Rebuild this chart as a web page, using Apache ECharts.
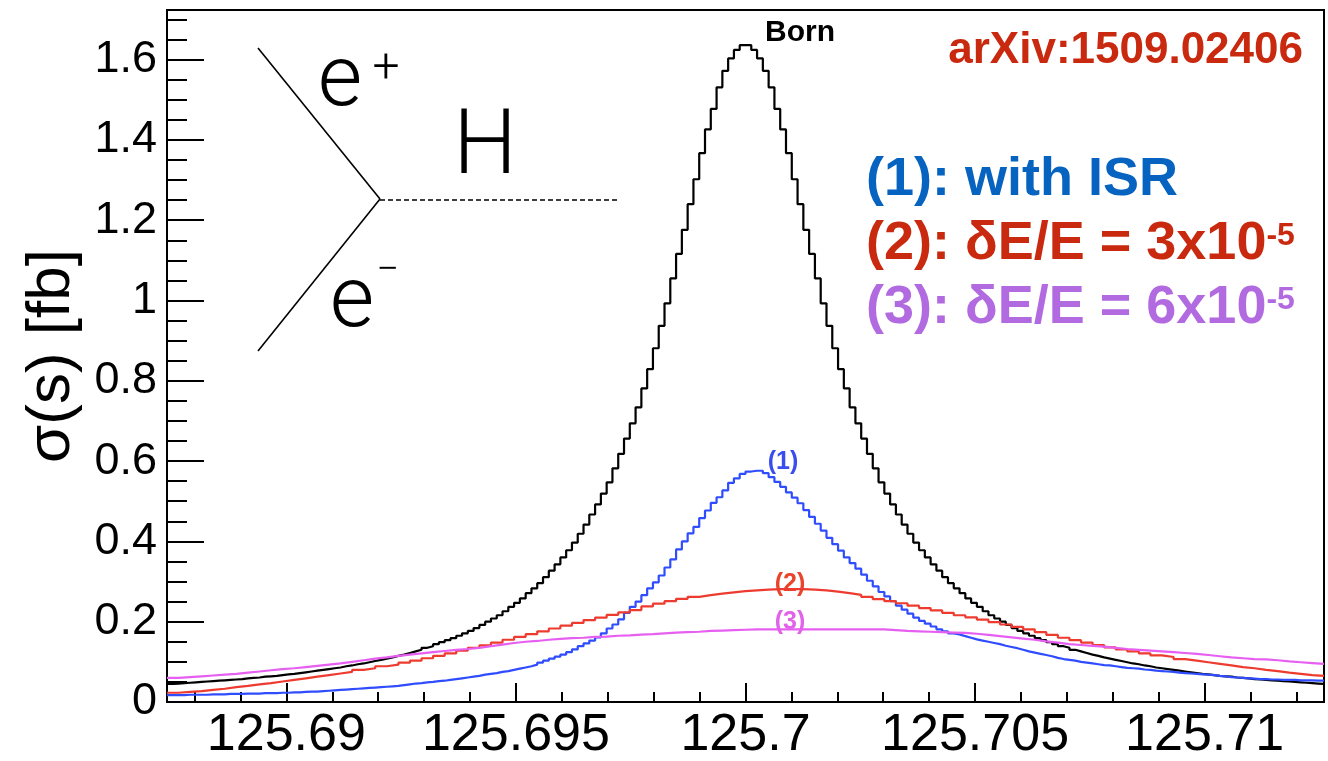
<!DOCTYPE html>
<html><head><meta charset="utf-8">
<script src="https://cdn.jsdelivr.net/npm/echarts@6/dist/echarts.min.js"></script>
<style>html,body{margin:0;padding:0;background:#fff}#c{width:1328px;height:761px}</style>
</head><body><div id="c"></div>
<script>
const xMin = 125.6874, xMax = 125.7126;
const yMin = 0, yMax = 1.7235;
const xMajorTicks = [125.69, 125.695, 125.7, 125.705, 125.71];
const xTickLabels = ['125.69', '125.695', '125.7', '125.705', '125.71'];
const xMinorTicks = [125.688, 125.689, 125.691, 125.692, 125.693, 125.694, 125.696, 125.697, 125.698, 125.699,
  125.701, 125.702, 125.703, 125.704, 125.706, 125.707, 125.708, 125.709, 125.711, 125.712];
const yMajorTicks = [0, 0.2, 0.4, 0.6, 0.8, 1.0, 1.2, 1.4, 1.6];
const yTickLabels = ['0', '0.2', '0.4', '0.6', '0.8', '1', '1.2', '1.4', '1.6'];
const yMinorTicks = [0.05, 0.1, 0.15, 0.25, 0.3, 0.35, 0.45, 0.5, 0.55, 0.65, 0.7, 0.75, 0.85, 0.9, 0.95,
  1.05, 1.1, 1.15, 1.25, 1.3, 1.35, 1.45, 1.5, 1.55, 1.65, 1.7];

// Born (200 bins)
const born = [
  0.045, 0.046, 0.047, 0.048, 0.049, 0.050, 0.051, 0.052, 0.053, 0.054,
  0.055, 0.056, 0.057, 0.059, 0.060, 0.061, 0.063, 0.064, 0.065, 0.067,
  0.069, 0.070, 0.072, 0.074, 0.076, 0.078, 0.080, 0.082, 0.084, 0.086,
  0.089, 0.091, 0.094, 0.096, 0.099, 0.102, 0.105, 0.108, 0.111, 0.115,
  0.118, 0.122, 0.126, 0.130, 0.135, 0.139, 0.144, 0.149, 0.154, 0.159,
  0.165, 0.171, 0.177, 0.184, 0.192, 0.200, 0.208, 0.216, 0.226, 0.237,
  0.247, 0.258, 0.271, 0.283, 0.296, 0.311, 0.327, 0.343, 0.360, 0.378,
  0.397, 0.419, 0.442, 0.467, 0.492, 0.519, 0.547, 0.582, 0.618, 0.656,
  0.694, 0.734, 0.781, 0.829, 0.881, 0.937, 0.993, 1.055, 1.116, 1.176,
  1.240, 1.302, 1.367, 1.426, 1.477, 1.531, 1.572, 1.603, 1.624, 1.636,
  1.636, 1.624, 1.603, 1.572, 1.531, 1.477, 1.426, 1.367, 1.302, 1.240,
  1.176, 1.116, 1.055, 0.993, 0.937, 0.881, 0.829, 0.781, 0.734, 0.694,
  0.656, 0.618, 0.582, 0.547, 0.519, 0.492, 0.467, 0.442, 0.419, 0.397,
  0.378, 0.360, 0.343, 0.327, 0.311, 0.296, 0.283, 0.271, 0.258, 0.247,
  0.237, 0.226, 0.216, 0.208, 0.200, 0.192, 0.184, 0.177, 0.171, 0.165,
  0.159, 0.154, 0.149, 0.144, 0.139, 0.135, 0.130, 0.126, 0.122, 0.118,
  0.115, 0.111, 0.108, 0.105, 0.102, 0.099, 0.096, 0.094, 0.091, 0.089,
  0.086, 0.084, 0.082, 0.080, 0.078, 0.076, 0.074, 0.072, 0.070, 0.069,
  0.067, 0.065, 0.064, 0.063, 0.061, 0.060, 0.059, 0.057, 0.056, 0.055,
  0.054, 0.053, 0.052, 0.051, 0.050, 0.049, 0.048, 0.047, 0.046, 0.045
];
// (1) with ISR (200 bins)
const withISR = [
  0.017, 0.017, 0.017, 0.018, 0.018, 0.018, 0.018, 0.019, 0.019, 0.019,
  0.020, 0.020, 0.020, 0.021, 0.021, 0.021, 0.022, 0.022, 0.022, 0.023,
  0.023, 0.024, 0.024, 0.025, 0.026, 0.026, 0.027, 0.028, 0.029, 0.030,
  0.031, 0.032, 0.033, 0.034, 0.035, 0.036, 0.037, 0.038, 0.039, 0.040,
  0.042, 0.044, 0.046, 0.047, 0.049, 0.050, 0.052, 0.053, 0.055, 0.057,
  0.059, 0.061, 0.063, 0.065, 0.068, 0.070, 0.072, 0.075, 0.077, 0.080,
  0.083, 0.086, 0.089, 0.093, 0.098, 0.103, 0.108, 0.113, 0.118, 0.124,
  0.131, 0.139, 0.146, 0.153, 0.161, 0.171, 0.183, 0.193, 0.206, 0.222,
  0.237, 0.250, 0.266, 0.283, 0.298, 0.315, 0.335, 0.355, 0.380, 0.400,
  0.420, 0.436, 0.458, 0.477, 0.496, 0.510, 0.527, 0.546, 0.557, 0.568,
  0.574, 0.576, 0.576, 0.570, 0.560, 0.548, 0.536, 0.522, 0.509, 0.495,
  0.478, 0.461, 0.444, 0.427, 0.409, 0.393, 0.377, 0.360, 0.346, 0.332,
  0.317, 0.302, 0.288, 0.274, 0.263, 0.251, 0.240, 0.230, 0.220, 0.210,
  0.202, 0.195, 0.188, 0.181, 0.176, 0.171, 0.168, 0.164, 0.160, 0.156,
  0.153, 0.150, 0.147, 0.144, 0.140, 0.137, 0.134, 0.130, 0.126, 0.123,
  0.120, 0.117, 0.114, 0.110, 0.107, 0.105, 0.103, 0.100, 0.098, 0.096,
  0.094, 0.092, 0.091, 0.089, 0.087, 0.085, 0.084, 0.083, 0.081, 0.080,
  0.078, 0.077, 0.076, 0.075, 0.073, 0.072, 0.071, 0.070, 0.069, 0.068,
  0.067, 0.065, 0.064, 0.062, 0.061, 0.060, 0.059, 0.058, 0.057, 0.057,
  0.056, 0.056, 0.055, 0.055, 0.055, 0.054, 0.054, 0.054, 0.053, 0.053
];
// (2) dE/E = 3e-5 (100 bins)
const spread3 = [
  0.023, 0.025, 0.027, 0.030, 0.033, 0.037, 0.040, 0.044, 0.047, 0.051,
  0.055, 0.059, 0.063, 0.067, 0.071, 0.075, 0.080, 0.084, 0.089, 0.093,
  0.098, 0.103, 0.109, 0.115, 0.121, 0.128, 0.135, 0.141, 0.148, 0.155,
  0.162, 0.169, 0.176, 0.183, 0.190, 0.197, 0.204, 0.210, 0.217, 0.223,
  0.229, 0.238, 0.245, 0.251, 0.257, 0.262, 0.266, 0.270, 0.273, 0.276,
  0.278, 0.280, 0.281, 0.281, 0.281, 0.280, 0.278, 0.275, 0.271, 0.267,
  0.262, 0.256, 0.251, 0.246, 0.240, 0.234, 0.228, 0.222, 0.216, 0.211,
  0.205, 0.199, 0.193, 0.187, 0.181, 0.174, 0.167, 0.160, 0.154, 0.148,
  0.142, 0.136, 0.131, 0.126, 0.121, 0.116, 0.112, 0.107, 0.103, 0.099,
  0.095, 0.091, 0.087, 0.084, 0.080, 0.077, 0.073, 0.070, 0.067, 0.065
];
// (3) dE/E = 6e-5 (100 bins)
const spread6 = [
  0.060, 0.062, 0.064, 0.066, 0.068, 0.070, 0.073, 0.076, 0.079, 0.082,
  0.084, 0.087, 0.090, 0.093, 0.096, 0.100, 0.104, 0.108, 0.111, 0.115,
  0.118, 0.121, 0.124, 0.127, 0.130, 0.132, 0.135, 0.139, 0.143, 0.147,
  0.150, 0.152, 0.155, 0.157, 0.159, 0.160, 0.162, 0.163, 0.165, 0.166,
  0.168, 0.169, 0.171, 0.173, 0.174, 0.175, 0.177, 0.178, 0.179, 0.180,
  0.181, 0.181, 0.181, 0.181, 0.181, 0.181, 0.181, 0.181, 0.181, 0.181,
  0.181, 0.181, 0.179, 0.177, 0.176, 0.175, 0.174, 0.173, 0.172, 0.170,
  0.167, 0.164, 0.161, 0.158, 0.155, 0.151, 0.148, 0.144, 0.142, 0.140,
  0.138, 0.135, 0.132, 0.130, 0.128, 0.126, 0.124, 0.122, 0.120, 0.117,
  0.114, 0.111, 0.109, 0.107, 0.106, 0.104, 0.101, 0.099, 0.097, 0.095
];

function histPoints(vals) {
  const n = vals.length, w = (xMax - xMin) / n;
  const pts = vals.map((v, i) => [xMin + i * w, v]);
  pts.push([xMax, vals[n - 1]]);
  return pts;
}
function lookup(ticks, labels, v) {
  for (let i = 0; i < ticks.length; i++) if (Math.abs(ticks[i] - v) < 1e-7) return labels[i];
  return '';
}

const FONT = 'Liberation Sans, Arial, Helvetica, sans-serif';
const chart = echarts.init(document.getElementById('c'), null, { renderer: 'canvas' });

function histSeries(name, vals, color) {
  return {
    name, type: 'line', step: 'end', data: histPoints(vals),
    showSymbol: false, symbol: 'none', animation: false, silent: true,
    lineStyle: { color, width: 2.2 }, xAxisIndex: 0, yAxisIndex: 0
  };
}

const tickStyle = { color: '#000', width: 2 };
chart.setOption({
  backgroundColor: '#fff',
  animation: false,
  grid: { left: 167, right: 4, top: 10, bottom: 59, containLabel: false, outerBoundsMode: 'none',
    show: true, borderColor: '#000', borderWidth: 2, backgroundColor: 'transparent' },
  xAxis: [
    { type: 'value', min: xMin, max: xMax, position: 'bottom',
      axisLine: { show: true, onZero: false, lineStyle: { color: '#000', width: 2 } },
      axisTick: { show: true, inside: true, length: 19, customValues: xMajorTicks, lineStyle: tickStyle },
      axisLabel: { show: true, customValues: xMajorTicks, formatter: v => lookup(xMajorTicks, xTickLabels, v),
        fontSize: 52, fontFamily: FONT, color: '#000', margin: 8 },
      splitLine: { show: false }, minorTick: { show: false } },
    { type: 'value', min: xMin, max: xMax, position: 'bottom',
      axisLine: { show: false, onZero: false },
      axisTick: { show: true, inside: true, length: 10, customValues: xMinorTicks, lineStyle: tickStyle },
      axisLabel: { show: false }, splitLine: { show: false } }
  ],
  yAxis: [
    { type: 'value', min: yMin, max: yMax, position: 'left',
      name: 'σ(s) [fb]', nameLocation: 'middle', nameGap: 84, nameRotate: 90,
      nameTextStyle: { fontSize: 62, fontFamily: FONT, color: '#000' },
      axisLine: { show: true, onZero: false, lineStyle: { color: '#000', width: 2 } },
      axisTick: { show: true, inside: true, length: 37, customValues: yMajorTicks, lineStyle: tickStyle },
      axisLabel: { show: true, customValues: yMajorTicks, formatter: v => lookup(yMajorTicks, yTickLabels, v),
        fontSize: 45, fontFamily: FONT, color: '#000', margin: 10 },
      splitLine: { show: false } },
    { type: 'value', min: yMin, max: yMax, position: 'left',
      axisLine: { show: false, onZero: false },
      axisTick: { show: true, inside: true, length: 20, customValues: yMinorTicks, lineStyle: tickStyle },
      axisLabel: { show: false }, splitLine: { show: false } }
  ],
  series: [
    histSeries('Born', born, '#000000'),
    histSeries('(1)', withISR, '#2f4cff'),
    histSeries('(2)', spread3, '#ee3b2f'),
    histSeries('(3)', spread6, '#e65ff0')
  ],
  graphic: [
    { type: 'line', shape: { x1: 258, y1: 48, x2: 380, y2: 199 }, style: { stroke: '#000', lineWidth: 1.6 } },
    { type: 'line', shape: { x1: 380, y1: 199, x2: 258, y2: 351 }, style: { stroke: '#000', lineWidth: 1.6 } },
    { type: 'line', shape: { x1: 380, y1: 200, x2: 617, y2: 200 }, style: { stroke: '#000', lineWidth: 1.4, lineDash: [5, 3] } },
    { type: 'text', x: 340, y: 83, style: { text: 'e', fontSize: 86, fontFamily: 'Roboto', fontWeight: 300, fill: '#000', align: 'center', verticalAlign: 'middle' } },
    { type: 'text', x: 386, y: 70, style: { text: '+', fontSize: 48, fontFamily: 'Roboto', fontWeight: 300, fill: '#000', align: 'center', verticalAlign: 'middle' } },
    { type: 'text', x: 485, y: 150, style: { text: 'H', fontSize: 90, fontFamily: 'Roboto', fontWeight: 300, fill: '#000', align: 'center', verticalAlign: 'middle' } },
    { type: 'text', x: 352, y: 304, style: { text: 'e', fontSize: 86, fontFamily: 'Roboto', fontWeight: 300, fill: '#000', align: 'center', verticalAlign: 'middle' } },
    { type: 'text', x: 388, y: 272, style: { text: '−', fontSize: 40, fontFamily: 'Roboto', fontWeight: 300, fill: '#000', align: 'center', verticalAlign: 'middle' } },
    { type: 'text', x: 800, y: 33, style: { text: 'Born', fontSize: 30, fontFamily: FONT, fontWeight: 'bold', fill: '#000', align: 'center', verticalAlign: 'middle' } },
    { type: 'text', x: 1303, y: 51, style: { text: 'arXiv:1509.02406', fontSize: 44, fontFamily: FONT, fontWeight: 'bold', fill: '#c8290f', align: 'right', verticalAlign: 'middle' } },
    { type: 'text', x: 866, y: 180, style: { text: '(1): with ISR', fontSize: 54, fontFamily: FONT, fontWeight: 'bold', fill: '#0763c0', align: 'left', verticalAlign: 'middle' } },
    { type: 'text', x: 866, y: 244, style: { text: '{m|(2): δE/E = 3x10}{s|-5}', align: 'left', verticalAlign: 'middle',
      rich: { m: { fontSize: 54, lineHeight: 54, fontFamily: FONT, fontWeight: 'bold', fill: '#c8290f' },
              s: { fontSize: 32, lineHeight: 32, fontFamily: FONT, fontWeight: 'bold', fill: '#c8290f', verticalAlign: 'top', padding: [3, 0, 0, 0] } } } },
    { type: 'text', x: 866, y: 308, style: { text: '{m|(3): δE/E = 6x10}{s|-5}', align: 'left', verticalAlign: 'middle',
      rich: { m: { fontSize: 54, lineHeight: 54, fontFamily: FONT, fontWeight: 'bold', fill: '#b26ae0' },
              s: { fontSize: 32, lineHeight: 32, fontFamily: FONT, fontWeight: 'bold', fill: '#b26ae0', verticalAlign: 'top', padding: [3, 0, 0, 0] } } } },
    { type: 'text', x: 783, y: 462, style: { text: '(1)', fontSize: 25, fontFamily: FONT, fontWeight: 'bold', fill: '#3a4ef0', align: 'center', verticalAlign: 'middle' } },
    { type: 'text', x: 790, y: 584, style: { text: '(2)', fontSize: 25, fontFamily: FONT, fontWeight: 'bold', fill: '#e8452a', align: 'center', verticalAlign: 'middle' } },
    { type: 'text', x: 790, y: 622, style: { text: '(3)', fontSize: 25, fontFamily: FONT, fontWeight: 'bold', fill: '#e262ea', align: 'center', verticalAlign: 'middle' } }
  ]
});
</script></body></html>
